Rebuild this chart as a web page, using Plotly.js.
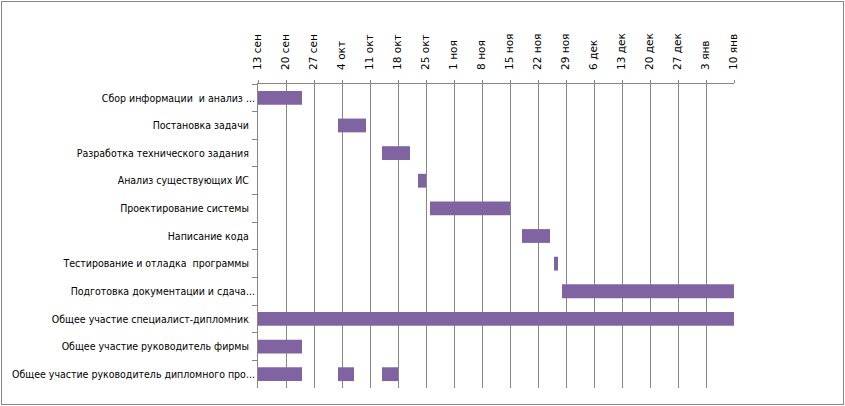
<!DOCTYPE html>
<html>
<head>
<meta charset="utf-8">
<script src="https://cdn.plot.ly/plotly-3.0.1.min.js"></script>
<style>
  html, body { margin: 0; padding: 0; background: #fff; }
  #wrap { position: relative; width: 845px; height: 406px; }
  #chart { width: 845px; height: 406px; }
  #frame { position: absolute; left: 1px; top: 1px; width: 841px; height: 402px;
           border: 1px solid #878787; pointer-events: none; }
</style>
</head>
<body>
<div id="wrap"><div id="chart"></div><div id="frame"></div></div>
<script>
// Task labels (top to bottom)
const taskLabels = [
  "Сбор информации \u00a0и анализ ...",
  "Постановка задачи\u00a0\u00a0",
  "Разработка технического задания\u00a0\u00a0",
  "Анализ существующих ИС\u00a0\u00a0",
  "Проектирование системы\u00a0\u00a0",
  "Написание кода\u00a0\u00a0",
  "Тестирование и отладка \u00a0программы\u00a0\u00a0",
  "Подготовка документации и сдача...",
  "Общее участие специалист-дипломник\u00a0\u00a0",
  "Общее участие руководитель фирмы\u00a0\u00a0",
  "Общее участие руководитель дипломного про..."
];

// Bar segments: task index, start date, duration in days
const segTask  = [0, 1, 2, 3, 4, 5, 6, 7, 8, 9, 10, 10, 10];
const segStart = ["2015-09-13", "2015-10-03", "2015-10-14", "2015-10-23", "2015-10-26",
                  "2015-11-18", "2015-11-26", "2015-11-28", "2015-09-13", "2015-09-13",
                  "2015-09-13", "2015-10-03", "2015-10-14"];
const segDays  = [11, 7, 7, 2, 20, 7, 1, 43, 119, 11, 11, 4, 4];

// Axis ticks
const tickDates = ["2015-09-13", "2015-09-20", "2015-09-27", "2015-10-04", "2015-10-11",
                   "2015-10-18", "2015-10-25", "2015-11-01", "2015-11-08", "2015-11-15",
                   "2015-11-22", "2015-11-29", "2015-12-06", "2015-12-13", "2015-12-20",
                   "2015-12-27", "2016-01-03", "2016-01-10"];
const tickLabels = ["13 сен", "20 сен", "27 сен", "4 окт", "11 окт", "18 окт", "25 окт",
                    "1 ноя", "8 ноя", "15 ноя", "22 ноя", "29 ноя", "6 дек", "13 дек",
                    "20 дек", "27 дек", "3 янв", "10 янв"];

const DAY = 86400000;
const trace = {
  type: "bar",
  orientation: "h",
  y: segTask.map(i => taskLabels[i]),
  base: segStart,
  x: segDays.map(d => d * DAY),
  width: 0.5,
  marker: { color: "#8064A2" },
  hoverinfo: "skip",
  showlegend: false
};

const yfont = { family: "DejaVu Sans Condensed, DejaVu Sans, sans-serif", size: 10.5, color: "#000" };
const xfont = { family: "DejaVu Sans, sans-serif", size: 10.5, color: "#000" };
const layout = {
  width: 845, height: 406,
  margin: { l: 258, r: 111, t: 84, b: 18 },
  paper_bgcolor: "#fff", plot_bgcolor: "#fff",
  font: yfont,
  xaxis: {
    type: "date",
    side: "top",
    range: ["2015-09-13", "2016-01-10"],
    tickmode: "array",
    tickvals: tickDates,
    ticktext: tickLabels,
    tickangle: -90,
    ticks: "outside", ticklen: 3, tickcolor: "#868686",
    ticklabelstandoff: 8,
    showgrid: true, gridcolor: "#868686", gridwidth: 1,
    showline: true, linecolor: "#868686", linewidth: 1,
    zeroline: false,
    tickfont: xfont,
    fixedrange: true
  },
  yaxis: {
    type: "category",
    categoryorder: "array",
    categoryarray: taskLabels,
    autorange: "reversed",
    tickson: "boundaries",
    ticks: "outside", ticklen: 5, tickcolor: "#868686",
    showgrid: false,
    showline: true, linecolor: "#868686", linewidth: 1,
    zeroline: false,
    tickfont: yfont,
    fixedrange: true
  }
};

Plotly.newPlot("chart", [trace], layout, { displayModeBar: false, staticPlot: true });
</script>
</body>
</html>
